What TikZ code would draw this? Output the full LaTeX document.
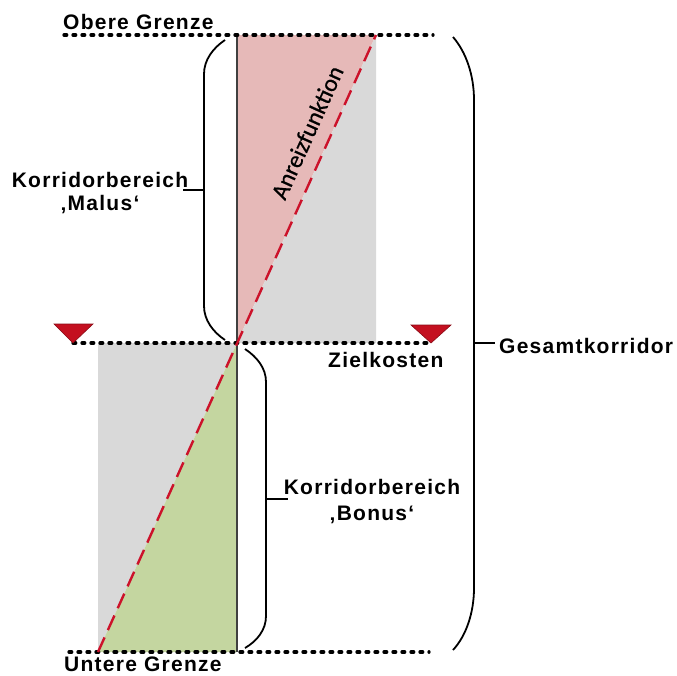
\documentclass[tikz,border=0pt]{standalone}
\usepackage{fontspec}
\newfontfamily\labfont{Liberation Sans}[LetterSpace=6]
\newfontfamily\anrfont{Carlito}[FakeBold=0.6]
\definecolor{pinkfill}{RGB}{230,185,184}
\definecolor{grayfill}{RGB}{217,217,217}
\definecolor{greenfill}{RGB}{196,214,160}
\definecolor{redline}{RGB}{204,18,42}
\definecolor{trired}{RGB}{196,16,32}
\begin{document}
\begin{tikzpicture}[x=1pt,y=-1pt,
  lab/.style={font=\labfont\bfseries\fontsize{21}{25}\selectfont, inner sep=0pt},
  grenz/.style={line width=3.3pt, dash pattern=on 2.7pt off 6.3pt, line cap=round},
  bracepath/.style={line width=1.8pt},
  diag/.style={redline, line width=2.4pt, dash pattern=on 16pt off 8pt},
  tri/.style={fill=trired, draw=trired!70!black, line width=0.6pt, line join=miter}]
\useasboundingbox (0,0) rectangle (677,675);
\coordinate (TL) at (237,35);
\coordinate (TR) at (376,35);
\coordinate (M) at (237,343);
\coordinate (MR) at (376,343);
\coordinate (ML) at (98,343);
\coordinate (BL) at (98,652);
\coordinate (B) at (237,652);
% fills
\fill[pinkfill] (TL) -- (TR) -- (M) -- cycle;
\fill[grayfill] (TR) -- (MR) -- (M) -- cycle;
\fill[grayfill] (ML) -- (M) -- (BL) -- cycle;
\fill[greenfill] (M) -- (B) -- (BL) -- cycle;
\draw[line width=1.1pt, black!75] (TL) -- (B);
% limit lines
\coordinate (g1a) at (64,35);  \coordinate (g1b) at (433,35);
\coordinate (g2a) at (73,343); \coordinate (g2b) at (431,343);
\coordinate (g3a) at (69,652); \coordinate (g3b) at (429,652);
\draw[grenz] (g1a) -- (g1b);
\draw[grenz] (g2a) -- (g2b);
\draw[grenz] (g3a) -- (g3b);
% incentive line
\draw[diag] (BL) -- (TR);
% markers
\draw[tri] (54,324) -- (93,324) -- (g2a) -- cycle;
\draw[tri] (411,325) -- (451,325) -- (g2b) -- cycle;
% braces
\draw[bracepath] (225,40) .. controls (213,48) and (204,60) .. (204,74) -- (204,306) .. controls (204,320) and (213,332) .. (225,340);
\draw[bracepath] (204,190) -- (183,190);
\draw[bracepath] (245,349) .. controls (257,357) and (266,368) .. (266,382) -- (266,616) .. controls (266,630) and (257,641) .. (245,648);
\draw[bracepath] (266,499) -- (288,499);
\draw[bracepath] (453,37) .. controls (466,52) and (474,75) .. (474,100) -- (474,588) .. controls (474,613) and (466,636) .. (453,650);
\draw[bracepath] (474,343) -- (495,343);
% texts
\node[lab, anchor=base west] (obere) at (63,29) {Obere Grenze};
\node[lab, anchor=base west] (untere) at (64,671) {Untere Grenze};
\node[lab, anchor=base west] (ziel) at (328,367) {Zielkosten};
\node[lab, anchor=base west] (gesamt) at (499,353) {Gesamtkorridor};
\node[lab, anchor=base] (malusA) at (100,187) {Korridorbereich};
\node[lab, anchor=base] (malusB) at (100,210) {‚Malus‘};
\node[lab, anchor=base] (bonusA) at (372,494) {Korridorbereich};
\node[lab, anchor=base] (bonusB) at (372,520) {‚Bonus‘};
\node[font=\anrfont\fontsize{24}{28}\selectfont, rotate=65.7, anchor=south, inner sep=0pt] (anr) at (315,136) {Anreizfunktion};
\end{tikzpicture}
\end{document}
